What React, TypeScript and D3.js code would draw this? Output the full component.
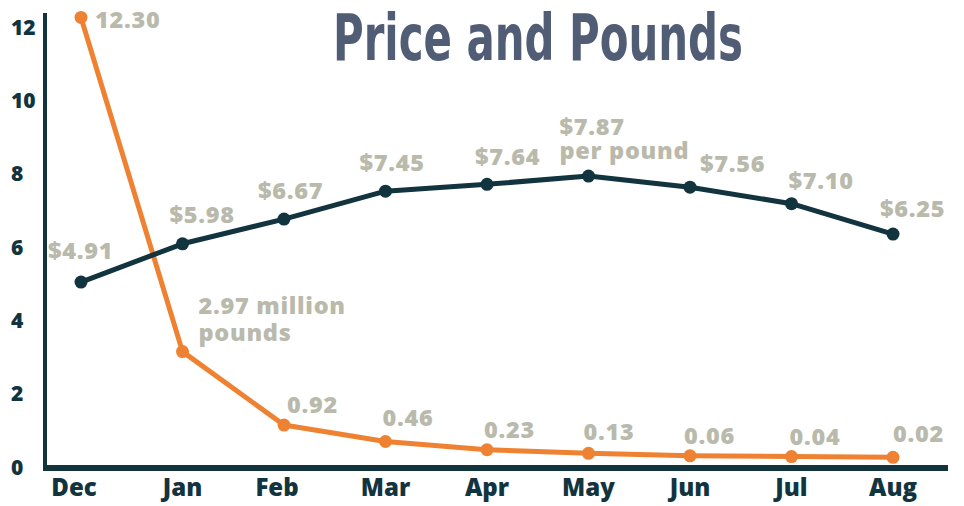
// Price and Pounds line chart
import React from "react";
import * as d3 from "d3";

const months = ["Dec", "Jan", "Feb", "Mar", "Apr", "May", "Jun", "Jul", "Aug"];
const price = [4.91, 5.98, 6.67, 7.45, 7.64, 7.87, 7.56, 7.1, 6.25];
const pounds = [12.3, 2.97, 0.92, 0.46, 0.23, 0.13, 0.06, 0.04, 0.02];
const yTicks = [0, 2, 4, 6, 8, 10, 12];

// label placement relative to each point (start anchor, baseline)
const priceDx = [-33, -13, -26, -26, -12, -29, 10, -3, -13];
const priceDy = [-23, -21, -20, -20, -19, -41, -15, -15, -17];
const poundsDx = [14, 16, 3, -3, -3, -5, -6, -2, 0];
const poundsDy = [11, -38, -12, -16, -12, -13, -12, -12, -15];

const W = 964;
const H = 506;
const navy = "#12343f";
const orange = "#ee8232";
const grey = "#b9baab";
const labelFont = "'Open Sans', 'DejaVu Sans', sans-serif";

const App = () => {
  const x = d3.scalePoint<string>().domain(months).range([81, 893]);
  const yAxis = d3.scaleLinear().domain([0, 12]).range([467, 27]);
  const y = d3.scaleLinear().domain([0, 12.3]).range([458, 17.4]);

  const line = d3
    .line<number>()
    .x((_, i) => x(months[i]) as number)
    .y((d) => y(d));

  const fmtPrice = d3.format("$.2f");
  const fmtPounds = d3.format(".2f");

  // one text element per label, extra lines as tspans
  const valueText = (key: string, px: number, py: number, lines: string[], gap: number) => (
    <text
      key={key}
      x={px}
      y={py}
      fill={grey}
      fontFamily={labelFont}
      fontWeight={800}
      fontSize={23.5}
      letterSpacing={0.7}
    >
      {lines.map((t, j) => (
        <tspan key={j} x={px} dy={j === 0 ? 0 : gap}>
          {t}
        </tspan>
      ))}
    </text>
  );

  return (
    <div style={{ position: "absolute", left: 0, top: 0 }}>
      <svg width={W} height={H} style={{ display: "block", background: "#fff" }}>
        <text
          x={538}
          y={60}
          textAnchor="middle"
          fill="#505d75"
          fontFamily="'Liberation Sans Narrow', 'DejaVu Sans Condensed', sans-serif"
          fontWeight={700}
          fontSize={64}
          textLength={410}
          lengthAdjust="spacingAndGlyphs"
        >
          Price and Pounds
        </text>

        {/* axes */}
        <line x1={45} x2={45} y1={13} y2={470} stroke={navy} strokeWidth={4} />
        <line x1={43} x2={948} y1={468} y2={468} stroke={navy} strokeWidth={6} />

        {yTicks.map((t) => (
          <text
            key={"yt" + t}
            x={11}
            y={yAxis(t)}
            dy="0.36em"
            fill={navy}
            fontFamily={labelFont}
            fontWeight={800}
            fontSize={21}
          >
            {t}
          </text>
        ))}

        {months.map((m) => (
          <text
            key={"m" + m}
            x={(x(m) as number) - (m === "Dec" || m === "Feb" ? 7 : 0)}
            y={496}
            textAnchor="middle"
            fill={navy}
            fontFamily={labelFont}
            fontWeight={800}
            fontSize={24}
          >
            {m}
          </text>
        ))}

        {/* pounds series */}
        <path d={line(pounds) || ""} fill="none" stroke={orange} strokeWidth={5} strokeLinejoin="round" />
        {pounds.map((v, i) => (
          <circle key={"pc" + i} cx={x(months[i])} cy={y(v)} r={6.5} fill={orange} />
        ))}

        {/* price series */}
        <path d={line(price) || ""} fill="none" stroke={navy} strokeWidth={5} strokeLinejoin="round" />
        {price.map((v, i) => (
          <circle key={"rc" + i} cx={x(months[i])} cy={y(v)} r={6.5} fill={navy} />
        ))}

        {price.map((v, i) => {
          const px = (x(months[i]) as number) + priceDx[i];
          const py = y(v) + priceDy[i];
          const lines = i === 5 ? [fmtPrice(v), "per pound"] : [fmtPrice(v)];
          return valueText("pl" + i, px, py, lines, 24);
        })}

        {pounds.map((v, i) => {
          const px = (x(months[i]) as number) + poundsDx[i];
          const py = y(v) + poundsDy[i];
          const lines = i === 1 ? [fmtPounds(v) + " million", "pounds"] : [fmtPounds(v)];
          return valueText("ol" + i, px, py, lines, 27);
        })}
      </svg>
    </div>
  );
};

export default App;
